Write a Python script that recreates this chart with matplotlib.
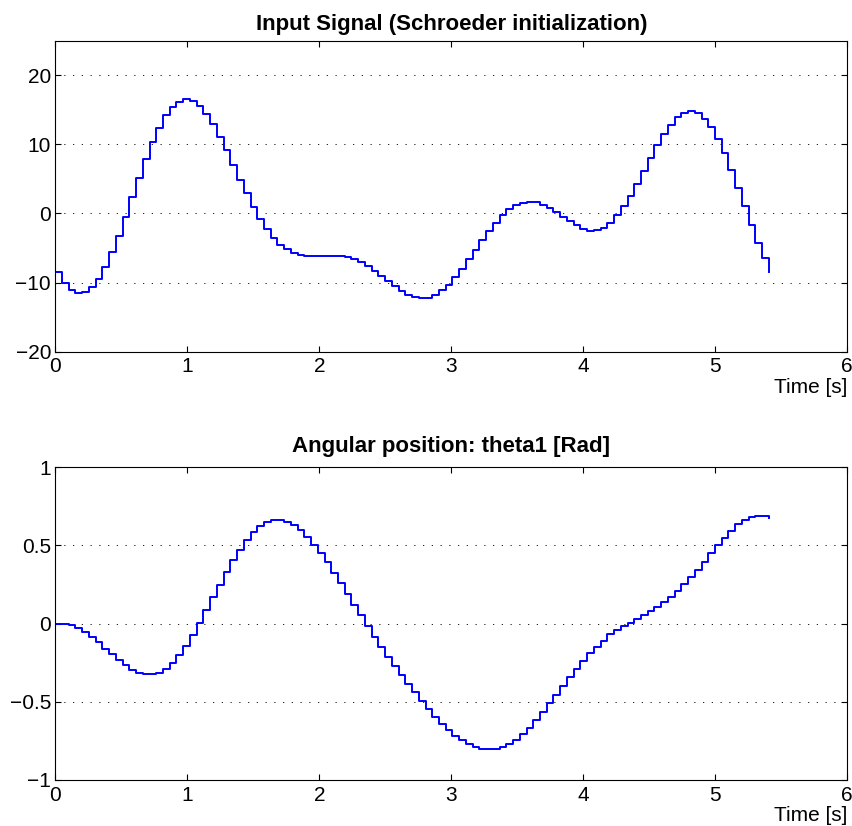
import matplotlib
matplotlib.use("Agg")
import matplotlib.pyplot as plt
import numpy as np

plt.rcParams['font.family'] = ['Liberation Sans', 'DejaVu Sans']

# sample period of the simulation [s]
ts = 0.051

# input torque, Schroeder-phased multisine (zero-order hold)
u = [-8.5, -10.0, -11.0, -11.5, -11.4, -10.7, -9.5, -7.8, -5.6, -3.2,
     -0.5, 2.4, 5.2, 7.9, 10.4, 12.4, 14.2, 15.4, 16.2, 16.5,
     16.3, 15.5, 14.4, 12.9, 11.1, 9.2, 7.0, 4.9, 2.9, 1.0,
     -0.8, -2.3, -3.6, -4.5, -5.2, -5.7, -6.0, -6.1, -6.15, -6.15,
     -6.1, -6.1, -6.15, -6.3, -6.55, -7.0, -7.6, -8.3, -9.05, -9.8,
     -10.5, -11.2, -11.75, -12.05, -12.2, -12.2, -11.85, -11.1, -10.3, -9.25,
     -8.05, -6.65, -5.3, -3.85, -2.55, -1.35, -0.15, 0.65, 1.2, 1.5,
     1.65, 1.6, 1.3, 0.85, 0.25, -0.45, -1.1, -1.7, -2.3, -2.55,
     -2.45, -2.05, -1.35, -0.25, 1.05, 2.55, 4.3, 6.15, 8.05, 9.85,
     11.45, 12.8, 13.9, 14.55, 14.8, 14.55, 13.7, 12.5, 10.85, 8.75,
     6.35, 3.7, 1.05, -1.7, -4.25, -6.5, -8.45]

# measured angle of the first link [rad]
theta1 = [0.0, -0.003, -0.01, -0.03, -0.053, -0.085, -0.12, -0.16, -0.196, -0.23,
          -0.266, -0.294, -0.313, -0.323, -0.323, -0.313, -0.287, -0.249, -0.202, -0.143,
          -0.072, 0.004, 0.085, 0.17, 0.25, 0.33, 0.406, 0.474, 0.534, 0.583,
          0.623, 0.649, 0.662, 0.662, 0.653, 0.632, 0.6, 0.557, 0.506, 0.451,
          0.391, 0.326, 0.257, 0.189, 0.121, 0.053, -0.017, -0.083, -0.147, -0.211,
          -0.27, -0.33, -0.387, -0.44, -0.494, -0.543, -0.598, -0.643, -0.681, -0.717,
          -0.747, -0.77, -0.787, -0.802, -0.804, -0.802, -0.791, -0.77, -0.745, -0.709,
          -0.666, -0.617, -0.566, -0.51, -0.457, -0.4, -0.34, -0.29, -0.238, -0.189,
          -0.149, -0.109, -0.066, -0.043, -0.015, 0.006, 0.03, 0.053, 0.078, 0.106,
          0.138, 0.172, 0.21, 0.251, 0.298, 0.346, 0.397, 0.45, 0.5, 0.546,
          0.593, 0.634, 0.661, 0.68, 0.691, 0.687, 0.674]

x_ticks = [0, 1, 2, 3, 4, 5, 6]
u_ticks = [-20, -10, 0, 10, 20]
th_ticks = [-1, -0.5, 0, 0.5, 1]
th_labels = ['\u22121', '\u22120.5', '0', '0.5', '1']

t_u = np.arange(len(u)) * ts
t_th = np.arange(len(theta1)) * ts


def style_axes(ax, yticks, ylim):
    ax.set_xlim(0, 6)
    ax.set_ylim(*ylim)
    ax.set_xticks(x_ticks)
    ax.set_yticks(yticks)
    ax.tick_params(direction='in', top=True, right=True, length=4,
                   width=0.8, labelsize=15)
    ax.tick_params(axis='y', pad=3)
    ax.tick_params(axis='x', pad=4)
    for sp in ax.spines.values():
        sp.set_linewidth(0.8)
    ax.yaxis.grid(True, color='k', linewidth=0.6, linestyle=(0, (1.5, 9)))
    ax.set_xlabel('Time [s]', loc='right', fontsize=15, labelpad=1)


fig = plt.figure(figsize=(8.53, 8.26), dpi=100)
ax0 = fig.add_axes([0.0648, 0.5742, 0.9285, 0.3765])
ax1 = fig.add_axes([0.0648, 0.0557, 0.9285, 0.3786])

ax0.step(t_u, u, where='post', color='#0000ff', linewidth=1.4)
style_axes(ax0, u_ticks, (-20, 25))
ax0.set_title('Input Signal (Schroeder initialization)', fontsize=16,
              fontweight='bold', pad=8)

ax1.step(t_th, theta1, where='post', color='#0000ff', linewidth=1.4)
style_axes(ax1, th_ticks, (-1, 1))
ax1.set_yticklabels(th_labels)
ax1.set_title('Angular position: theta1 [Rad]', fontsize=16,
              fontweight='bold', pad=11)

fig.savefig('out.png', dpi=100)
